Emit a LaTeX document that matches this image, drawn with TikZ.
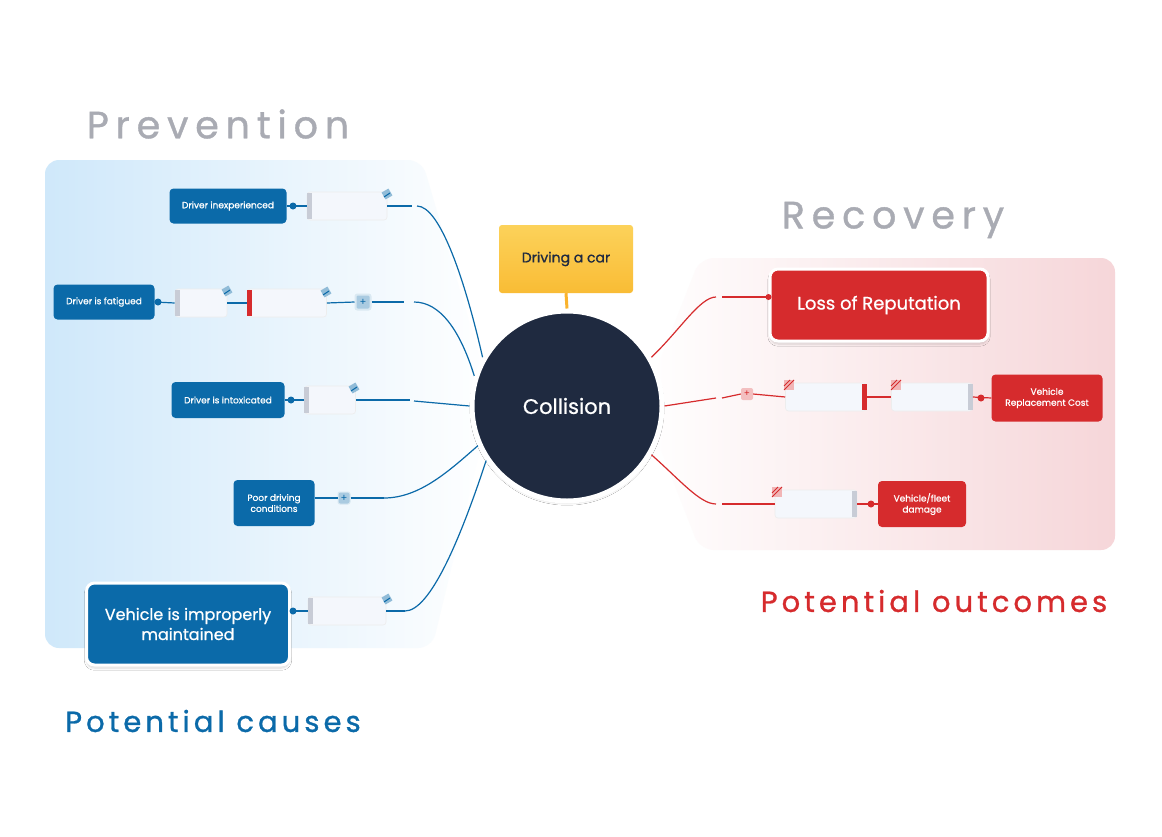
\documentclass[tikz,border=0pt]{standalone}
\usepackage{fontspec}
\setmainfont{Poppins}
\usetikzlibrary{shadows.blur,calc}
\definecolor{cblue}{HTML}{0B6AA9}
\definecolor{cred}{HTML}{D62B2D}
\definecolor{navy}{HTML}{1F2A40}
\definecolor{ttl}{HTML}{A9ABB3}
\definecolor{boxw}{HTML}{F4F7FC}
\definecolor{strip}{HTML}{C8CCD6}
\definecolor{pblue}{HTML}{CFE8FA}
\definecolor{pred}{HTML}{F6D6D9}
\definecolor{yel1}{HTML}{FCD25A}
\definecolor{yel2}{HTML}{F9BC35}
\tikzset{
 bnode/.style={fill=cblue,rounded corners=4pt,text=white,align=center,inner sep=0pt,font=\fontsize{9}{11}\selectfont\addfontfeature{FakeBold=0.8}},
 rnode/.style={fill=cred,rounded corners=4pt,text=white,align=center,inner sep=0pt,font=\fontsize{9}{11}\selectfont\addfontfeature{FakeBold=0.8}},
 wbox/.style={fill=boxw,draw=black!7,line width=0.6pt,rounded corners=3pt,inner sep=0pt,minimum height=28pt},
 bl/.style={cblue,line width=1.2pt},
 rl/.style={cred,line width=1.2pt},
 dotb/.style={circle,fill=cblue,inner sep=0pt,minimum size=7pt},
 dotr/.style={circle,fill=cred,inner sep=0pt,minimum size=7pt},
 plusb/.style={rounded corners=2pt,fill=cblue!35,draw=cblue!15,line width=2pt,minimum size=15pt,inner sep=0pt,text=cblue,font=\fontsize{10}{10}\selectfont},
 plusr/.style={rounded corners=2pt,fill=cred!30,minimum size=12pt,inner sep=0pt,text=cred,font=\fontsize{9}{9}\selectfont},
 ttl/.style={font=\fontsize{38}{40}\selectfont\addfontfeature{LetterSpace=18,FakeBold=1},text=ttl},
 sub/.style={font=\fontsize{29}{32}\selectfont\addfontfeature{LetterSpace=14,FakeBold=1}},
}
\newcommand{\bicon}[1]{\fill[cblue!45,rotate around={30:#1}] ($#1+(-4,-4)$) rectangle ($#1+(4,4)$);\draw[cblue,line width=1pt] ($#1+(-3,3)$)--($#1+(3,-1)$);}
\newcommand{\ricon}[1]{\fill[cred!35] ($#1+(-5,-5)$) rectangle ($#1+(5,5)$);\draw[cred,line width=0.8pt] ($#1+(-5,5)$)--($#1+(5,-5)$) ($#1+(-5,1)$)--($#1+(1,-5)$);}
\begin{document}
\begin{tikzpicture}[x=1pt,y=-1pt]
\useasboundingbox (0,0) rectangle (1162,836);
\fill[white] (0,0) rectangle (1162,836);
\shade[left color=pblue,right color=white,rounded corners=14pt] (45,160) -- (422,160) -- (492,400) -- (432,648) -- (45,648) -- cycle;
\shade[left color=white,right color=pred,rounded corners=14pt] (700,258) -- (1115,258) -- (1115,550) -- (700,550) -- (643,404) -- cycle;
\node[ttl] (tprev) at (218,124) {Prevention};
\node[ttl] (trec) at (893,220) {Recovery};
\node[sub,text=cblue] (tcause) at (213,721) {Potential causes};
\node[sub,text=cred] (tout) at (934,601) {Potential outcomes};
\node[circle,fill=navy,draw=white,line width=5pt,minimum size=190pt,text=white,font=\fontsize{21}{24}\selectfont\addfontfeature{FakeBold=0.8},blur shadow={shadow blur steps=8,shadow xshift=0pt,shadow yshift=-2pt,shadow opacity=20}] (col) at (567,406) {Collision};
\node[top color=yel1,bottom color=yel2,rounded corners=3pt,minimum width=134pt,minimum height=68pt,font=\fontsize{14}{16}\selectfont\addfontfeature{FakeBold=0.8},text=navy] (drive) at (566,259) {Driving a car};
\draw[yel2!85!orange,line width=3pt] (drive.south) -- (col.north);
% left
\node[bnode,minimum width=117pt,minimum height=35pt] (n1) at (228,206) {Driver inexperienced};
\node[dotb] (d1) at (293,206) {};
\node[wbox,minimum width=80pt] (w1) at (347,206) {};
\fill[strip] (w1.north west) ++(0,1) rectangle ++(5,26);
\bicon{(387,194)}
\coordinate (e1) at (417,206);
\draw[bl] (n1.east) -- (w1.west);
\draw[bl] (w1.east) -- (412,206);
\draw[bl] (e1) .. controls (440,206) and (465,280) .. (col.150);
\node[bnode,minimum width=101pt,minimum height=35pt] (n2) at (104,302) {Driver is fatigued};
\node[dotb] (d2) at (158,302) {};
\node[wbox,minimum width=52pt] (w2a) at (201,303) {};
\fill[strip] (w2a.north west) ++(0,1) rectangle ++(5,26);
\node[wbox,minimum width=79pt] (w2b) at (287,303) {};
\fill[cred] (w2b.north west) ++(0,1) rectangle ++(5,26);
\bicon{(227,291)}
\bicon{(326,292)}
\node[plusb] (p2) at (363,302) {+};
\coordinate (e2) at (414,302);
\draw[bl] (n2.east) -- (w2a.west);
\draw[bl] (w2a.east) -- (w2b.west);
\draw[bl] (w2b.east) -- (p2.west);
\draw[bl] (p2.east) -- (404,302);
\draw[bl] (e2) .. controls (440,302) and (460,330) .. (col.162);
\node[bnode,minimum width=113pt,minimum height=36pt] (n3) at (228,400) {Driver is intoxicated};
\node[dotb] (d3) at (291,400) {};
\node[wbox,minimum width=51pt] (w3) at (330,400) {};
\fill[strip] (w3.north west) ++(0,1) rectangle ++(5,26);
\bicon{(354,388)}
\coordinate (e3) at (414,401);
\draw[bl] (n3.east) -- (w3.west);
\draw[bl] (w3.east) -- (410,400);
\draw[bl] (e3) -- (col.west);
\node[bnode,minimum width=81pt,minimum height=46pt] (n4) at (274,503) {Poor driving\\conditions};
\node[plusb,minimum size=12pt,line width=1pt] (p4) at (344,498) {+};
\coordinate (e4) at (384,498);
\draw[bl] (n4.east |- p4) -- (p4.west);
\draw[bl] (p4.east) -- (e4);
\draw[bl] (e4) .. controls (420,498) and (450,470) .. (col.204);
\node[bnode,minimum width=203pt,minimum height=82pt,draw=white,line width=3pt,rounded corners=8pt,font=\fontsize{16}{20}\selectfont\addfontfeature{FakeBold=0.8},blur shadow={shadow blur steps=8,shadow xshift=0pt,shadow yshift=-3pt,shadow opacity=15}] (n5) at (188,624) {Vehicle is improperly\\maintained};
\node[dotb] (d5) at (293,611) {};
\node[wbox,minimum width=78pt] (w5) at (347,611) {};
\fill[strip] (w5.north west) ++(0,1) rectangle ++(5,26);
\bicon{(387,599)}
\coordinate (e5) at (405,611);
\draw[bl] (n5.east |- w5) -- (w5.west);
\draw[bl] (w5.east) -- (e5);
\draw[bl] (e5) .. controls (430,611) and (460,540) .. (col.214);
% right
\node[rnode,minimum width=218pt,minimum height=72pt,draw=white,line width=3pt,rounded corners=8pt,font=\fontsize{18}{22}\selectfont\addfontfeature{FakeBold=0.8},blur shadow={shadow blur steps=8,shadow xshift=0pt,shadow yshift=-3pt,shadow opacity=15}] (r1) at (879,305) {Loss of Reputation};
\coordinate (f1) at (716,297);
\draw[rl] (col.30) .. controls (680,330) and (700,297) .. (f1);
\draw[rl] (722,297) -- (r1.west |- f1);
\fill[cred] (r1.west |- f1) circle (3pt);
\node[plusr] (pr) at (747,394) {+};
\node[wbox,minimum width=81pt] (w6a) at (826,397) {};
\fill[cred] (w6a.north east) ++(-5,1) rectangle ++(5,26);
\node[wbox,minimum width=81pt] (w6b) at (932,397) {};
\fill[strip] (w6b.north east) ++(-5,1) rectangle ++(5,26);
\ricon{(789,385)}
\ricon{(896,385)}
\node[dotr] (d6) at (981,398) {};
\node[rnode,minimum width=111pt,minimum height=47pt] (r2) at (1047,398) {Vehicle\\Replacement Cost};
\coordinate (f2) at (716,398);
\draw[rl] (col.east) -- (f2);
\draw[rl] (722,398) -- (pr.west);
\draw[rl] (pr.east) -- (w6a.west);
\draw[rl] (w6a.east) -- (w6b.west);
\draw[rl] (w6b.east) -- (r2.west);
\node[wbox,minimum width=82pt] (w7) at (816,504) {};
\fill[strip] (w7.north east) ++(-5,1) rectangle ++(5,26);
\ricon{(777,492)}
\node[dotr] (d7) at (871,504) {};
\node[rnode,minimum width=88pt,minimum height=46pt] (r3) at (922,504) {Vehicle/fleet\\damage};
\coordinate (f3) at (716,504);
\draw[rl] (col.330) .. controls (680,480) and (700,504) .. (f3);
\draw[rl] (722,504) -- (w7.west);
\draw[rl] (w7.east) -- (r3.west);
\end{tikzpicture}
\end{document}
